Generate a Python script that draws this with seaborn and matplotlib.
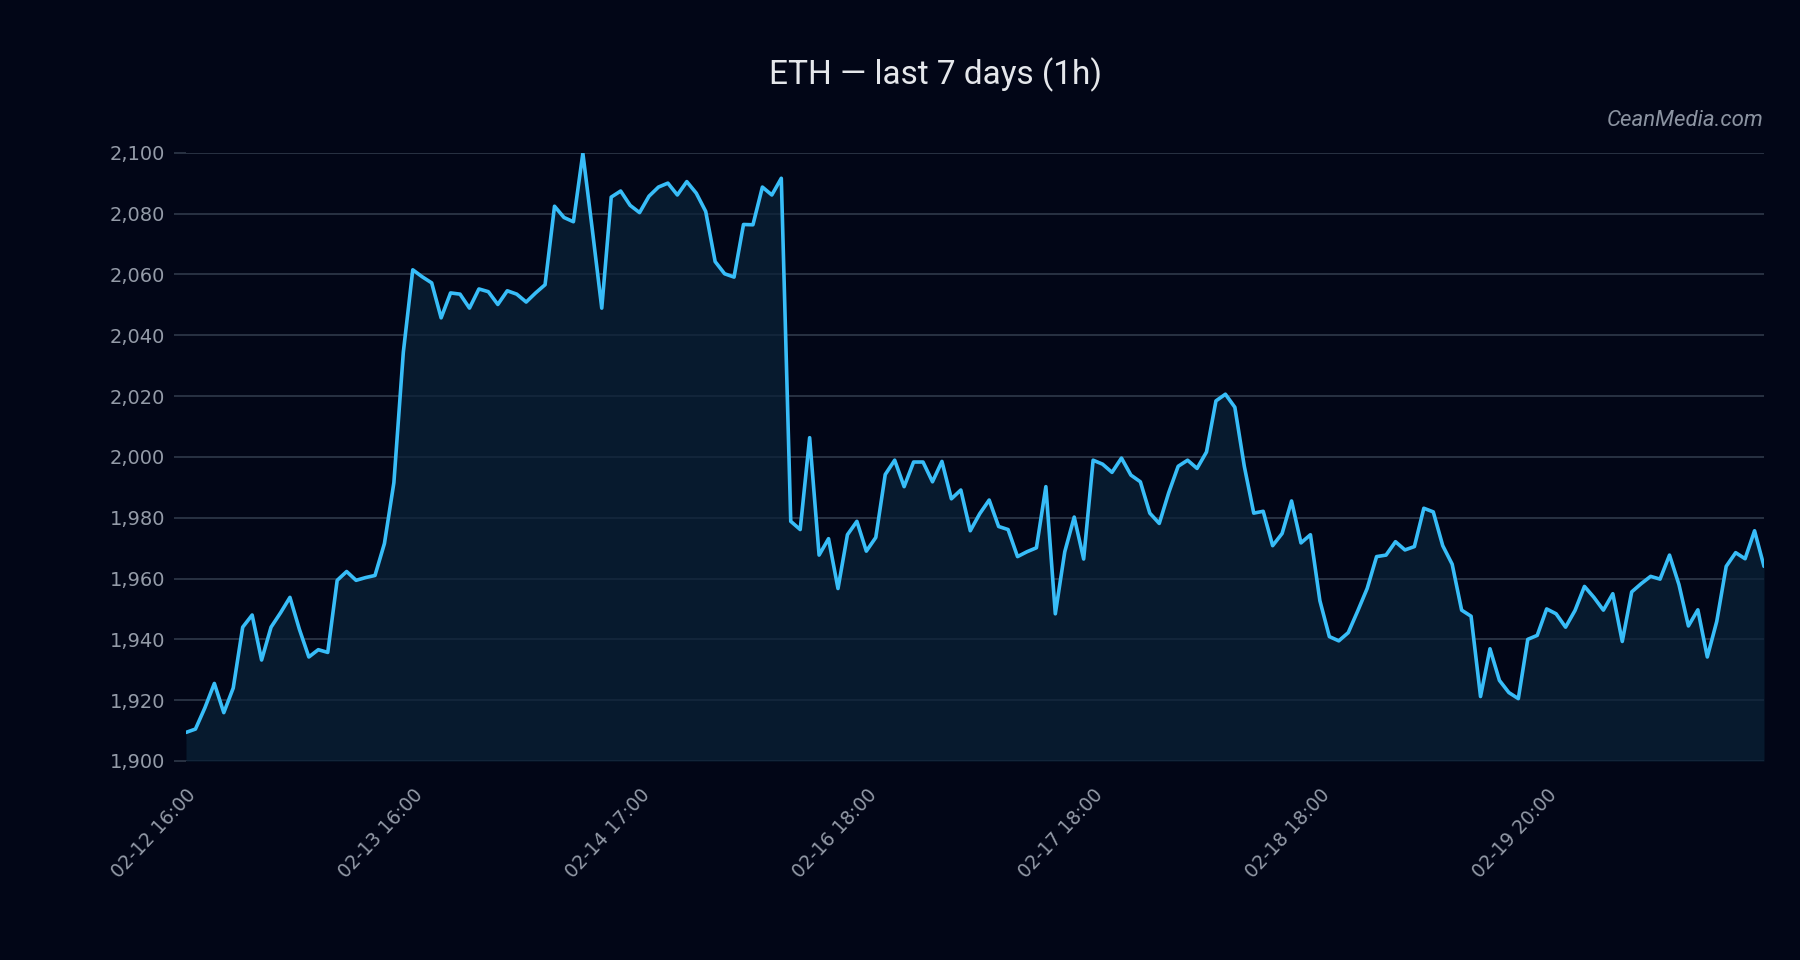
import matplotlib
matplotlib.use("Agg")
import matplotlib.pyplot as plt
import seaborn as sns
import pandas as pd
import numpy as np

# ---- data ----
prices = [
    1909.4, 1910.5, 1917.5, 1925.5, 1915.9, 1924.0, 1944.0, 1948.0, 1933.2, 1944.0,
    1948.7, 1953.8, 1943.3, 1934.2, 1936.6, 1935.7, 1959.4, 1962.3, 1959.4, 1960.3,
    1961.0, 1971.5, 1991.5, 2034.4, 2061.5, 2059.2, 2057.2, 2045.7, 2053.9, 2053.5,
    2048.9, 2055.2, 2054.3, 2050.1, 2054.6, 2053.5, 2050.9, 2053.9, 2056.6, 2082.4,
    2078.7, 2077.3, 2099.8, 2074.7, 2048.9, 2085.4, 2087.4, 2082.7, 2080.3, 2085.7,
    2088.7, 2090.0, 2086.1, 2090.5, 2086.7, 2080.7, 2064.2, 2060.2, 2059.1, 2076.4,
    2076.3, 2088.7, 2086.1, 2091.6, 1978.8, 1976.1, 2006.3, 1967.7, 1973.1, 1956.7,
    1974.4, 1978.8, 1969.0, 1973.5, 1994.2, 1998.9, 1990.2, 1998.3, 1998.3, 1991.8,
    1998.5, 1986.2, 1989.1, 1975.7, 1981.3, 1985.8, 1977.1, 1976.1, 1967.2, 1968.8,
    1970.1, 1990.2, 1948.4, 1968.8, 1980.2, 1966.4, 1998.9, 1997.6, 1994.9, 1999.6,
    1994.0, 1991.8, 1981.5, 1978.1, 1988.2, 1996.9, 1998.9, 1996.2, 2001.6, 2018.4,
    2020.6, 2016.3, 1996.9, 1981.5, 1982.1, 1970.8, 1974.8, 1985.5, 1971.7, 1974.4,
    1952.7, 1940.9, 1939.5, 1942.2, 1949.3, 1956.7, 1967.2, 1967.7, 1972.1, 1969.4,
    1970.5, 1983.1, 1981.9, 1970.8, 1964.7, 1949.6, 1947.6, 1921.2, 1936.9, 1926.5,
    1922.5, 1920.5, 1940.0, 1941.3, 1950.0, 1948.4, 1944.0, 1949.5, 1957.4, 1953.8,
    1949.6, 1955.0, 1939.3, 1955.6, 1958.3, 1960.7, 1959.8, 1967.7, 1958.0, 1944.4,
    1949.7, 1934.2, 1945.9, 1964.0, 1968.5, 1966.5, 1975.7, 1964.0,
]
tick_positions = [0, 24, 48, 72, 96, 120, 144]
tick_labels = ["02-12 16:00", "02-13 16:00", "02-14 17:00", "02-16 18:00",
               "02-17 18:00", "02-18 18:00", "02-19 20:00"]
y_ticks = [1900, 1920, 1940, 1960, 1980, 2000, 2020, 2040, 2060, 2080, 2100]
title = "ETH — last 7 days (1h)"
watermark = "CeanMedia.com"

BG = "#020617"
LINE = "#38bdf8"
GRID = "#2c3546"
TICK = "#949ba8"

sns.set_theme(style="dark")
plt.rcParams["font.family"] = ["DejaVu Sans"]

df = pd.DataFrame({"idx": np.arange(len(prices)), "price": prices})

fig = plt.figure(figsize=(18, 9.6), dpi=100, facecolor=BG)
ax = fig.add_axes([186 / 1800, 1 - 761 / 960, (1764 - 186) / 1800, (761 - 152.7) / 960])
ax.set_facecolor(BG)

ax.fill_between(df["idx"], df["price"], 1900, color="#0a2238", alpha=0.72, lw=0, zorder=1)
sns.lineplot(data=df, x="idx", y="price", ax=ax, color=LINE, linewidth=2.6, zorder=3)

ax.set_xlim(0, len(prices) - 1)
ax.set_ylim(1900, 2100)
ax.set_yticks(y_ticks)
ax.set_yticklabels([f"{v:,}" for v in y_ticks], color=TICK, fontsize=14)
ax.set_xticks(tick_positions)
ax.set_xticklabels([])
for pos, lab in zip(tick_positions, tick_labels):
    ax.annotate(lab, xy=(pos, 0), xycoords=ax.get_xaxis_transform(),
                xytext=(7, -31), textcoords="offset pixels",
                rotation=47, ha="right", va="center", rotation_mode="anchor",
                color=TICK, fontsize=13.5, annotation_clip=False)
ax.grid(axis="y", color=GRID, linewidth=1.3)
ax.grid(axis="x", visible=False)
ax.tick_params(axis="y", length=9, color=GRID, width=1.3, pad=6, left=True)
ax.tick_params(axis="x", length=0)
for s in ax.spines.values():
    s.set_visible(False)
ax.set_xlabel("")
ax.set_ylabel("")

fig.text(935 / 1800, 1 - 75 / 960, title, ha="center", va="center",
         color="#e5e7eb", fontsize=24, family=["Roboto", "DejaVu Sans"])
fig.text(1764 / 1800, 1 - 120 / 960, watermark, ha="right", va="center",
         color="#8b93a1", fontsize=16, style="italic",
         family=["Roboto", "DejaVu Sans"])

fig.savefig("out.png", dpi=100, facecolor=BG)
